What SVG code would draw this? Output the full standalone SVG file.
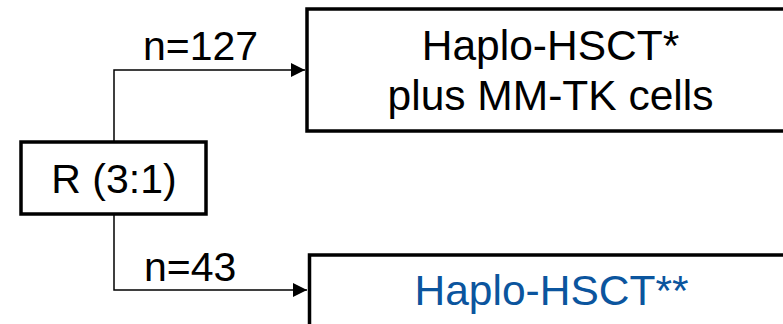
<svg xmlns="http://www.w3.org/2000/svg" width="783" height="324" viewBox="0 0 783 324">
<defs>
<style>
.box{fill:#fff;stroke:#000;stroke-width:3.5}
.t{font-family:"Liberation Sans",Arial,sans-serif;font-size:41px;fill:#000}
.b{font-size:42.5px}
.c{text-anchor:middle}
.ln{fill:none;stroke:#000;stroke-width:1.5}
</style>
<marker id="arr" viewBox="0 0 10 10" refX="10" refY="5" markerWidth="14" markerHeight="14" markerUnits="userSpaceOnUse" orient="auto">
<path d="M0,0 L10,5 L0,10 z" fill="#000"/>
</marker>
</defs>
<g id="connectors">
<polyline class="ln" points="114,142 114,70 305,70" marker-end="url(#arr)"/>
<polyline class="ln" points="114,214 114,290 307,290" marker-end="url(#arr)"/>
<text class="t" x="143" y="60">n=127</text>
<text class="t" x="144" y="281">n=43</text>
</g>
<g id="node-r">
<rect class="box" x="21" y="142" width="185" height="72"/>
<text class="t c" x="114" y="193">R (3:1)</text>
</g>
<g id="node-top">
<rect class="box" x="307" y="9" width="490" height="122"/>
<text class="t b c" x="550.5" y="60">Haplo-HSCT*</text>
<text class="t b c" x="550.5" y="110">plus MM-TK cells</text>
</g>
<g id="node-bottom">
<rect class="box" x="309.5" y="255" width="490" height="100"/>
<text class="t b c" x="551.5" y="305" style="fill:#0b559e">Haplo-HSCT**</text>
</g>
</svg>
